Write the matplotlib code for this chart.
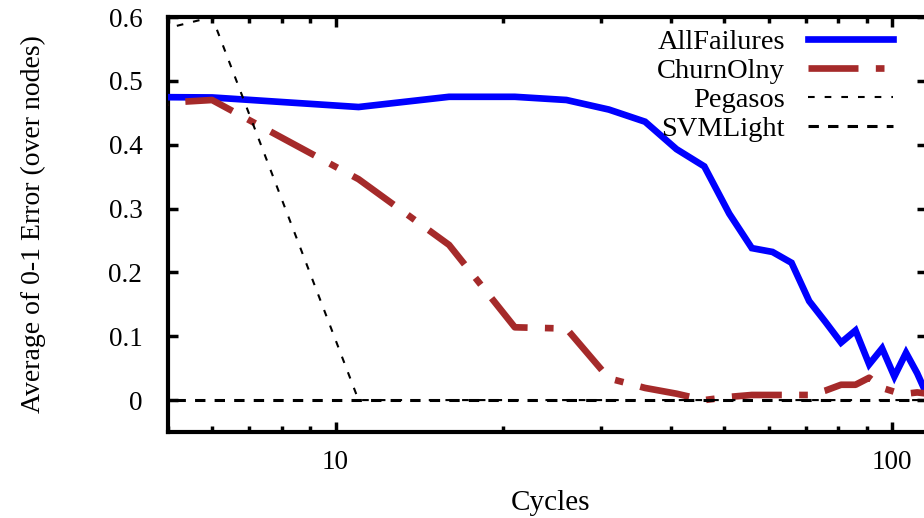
import matplotlib
matplotlib.use("Agg")
import matplotlib.pyplot as plt
from matplotlib.ticker import FixedLocator, NullFormatter, FixedFormatter, LogLocator

# ---- data ----
cycles = [1, 6, 11, 16, 21, 26, 31, 36, 41, 46, 51, 56, 61, 66, 71, 76,
          81, 86, 91, 96, 101, 106, 111, 116]
all_failures = [0.478, 0.474, 0.459, 0.475, 0.475, 0.470, 0.455, 0.436, 0.393, 0.366,
                0.292, 0.238, 0.232, 0.215, 0.155, 0.122, 0.090, 0.109, 0.056, 0.081,
                0.037, 0.074, 0.042, 0.005]
churn_only = [0.430, 0.470, 0.346, 0.243, 0.114, 0.112, 0.034, 0.019, 0.010, 0.000,
              0.005, 0.008, 0.008, 0.008, 0.008, 0.015, 0.024, 0.024, 0.035, 0.019,
              0.013, 0.010, 0.012, 0.010]
pegasos = [0.430, 0.600, 0.000, 0.000, 0.000, 0.000, 0.000, 0.000, 0.000, 0.000,
           0.000, 0.000, 0.000, 0.000, 0.000, 0.000, 0.000, 0.000, 0.000, 0.000,
           0.000, 0.000, 0.000, 0.000]
svmlight = [0.0, 0.0, 0.0, 0.0, 0.0, 0.0, 0.0, 0.0, 0.0, 0.0, 0.0, 0.0,
            0.0, 0.0, 0.0, 0.0, 0.0, 0.0, 0.0, 0.0, 0.0, 0.0, 0.0, 0.0]

series_labels = ["AllFailures", "ChurnOlny", "Pegasos", "SVMLight"]
yticks = [0, 0.1, 0.2, 0.3, 0.4, 0.5, 0.6]
ytick_labels = ["0", "0.1", "0.2", "0.3", "0.4", "0.5", "0.6"]
xticks_major = [10, 100]
xtick_labels = ["10", "100"]
xlabel = "Cycles"
ylabel = "Average of 0-1 Error (over nodes)"

plt.rcParams["font.family"] = ["Liberation Serif", "DejaVu Serif"]

W, H = 924, 518
fig = plt.figure(figsize=(W / 100, H / 100), dpi=100)
L, R, T, B = 168, 927, 17, 432
ax = fig.add_axes([L / W, 1 - B / H, (R - L) / W, (B - T) / H])

ax.plot(cycles, all_failures, color="#0000ff", lw=4.8, solid_joinstyle="miter",
        label=series_labels[0], zorder=3)
ax.plot(cycles, churn_only, color="#a52a2a", lw=4.8, dashes=(7.5, 2.6, 1.3, 2.6),
        dash_capstyle="butt", label=series_labels[1], zorder=4)
ax.plot(cycles, pegasos, color="black", lw=1.5, dashes=(3.2, 4.8),
        label=series_labels[2], zorder=5)
ax.plot(cycles, svmlight, color="black", lw=2.2, dashes=(3.4, 3.0),
        label=series_labels[3], zorder=6)

ax.set_xscale("log")
ax.set_xlim(5, 115.6)
ax.set_ylim(-0.05, 0.6)

ax.xaxis.set_major_locator(FixedLocator(xticks_major))
ax.xaxis.set_major_formatter(FixedFormatter(xtick_labels))
ax.xaxis.set_minor_locator(LogLocator(base=10, subs=[2, 3, 4, 5, 6, 7, 8, 9]))
ax.xaxis.set_minor_formatter(NullFormatter())
ax.set_yticks(yticks)
ax.set_yticklabels(ytick_labels)

for s in ax.spines.values():
    s.set_linewidth(3)
ax.tick_params(axis="both", which="major", direction="in", length=7, width=2.5,
               top=True, right=True, labelsize=19.5, pad=18.5)
ax.tick_params(axis="x", which="major", pad=13)
ax.tick_params(axis="both", which="minor", direction="in", length=4, width=2.5,
               top=True, right=True)

ax.set_xlabel(xlabel, fontsize=21)
ax.xaxis.set_label_coords((551 - L) / (R - L), -(503 - B) / (B - T), transform=ax.transAxes)
ax.xaxis.label.set_va("center")
ax.set_ylabel(ylabel, fontsize=20)
ax.yaxis.set_label_coords(-(L - 33) / (R - L), 0.5, transform=ax.transAxes)
ax.yaxis.label.set_va("center")

leg = ax.legend(loc="upper right", bbox_to_anchor=((893 - L) / (R - L), 0.972),
                frameon=False, markerfirst=False, fontsize=20.5, handlelength=3.0,
                handletextpad=0.8, labelspacing=0.11, borderpad=0, borderaxespad=0)

fig.savefig("out.png", dpi=100)
